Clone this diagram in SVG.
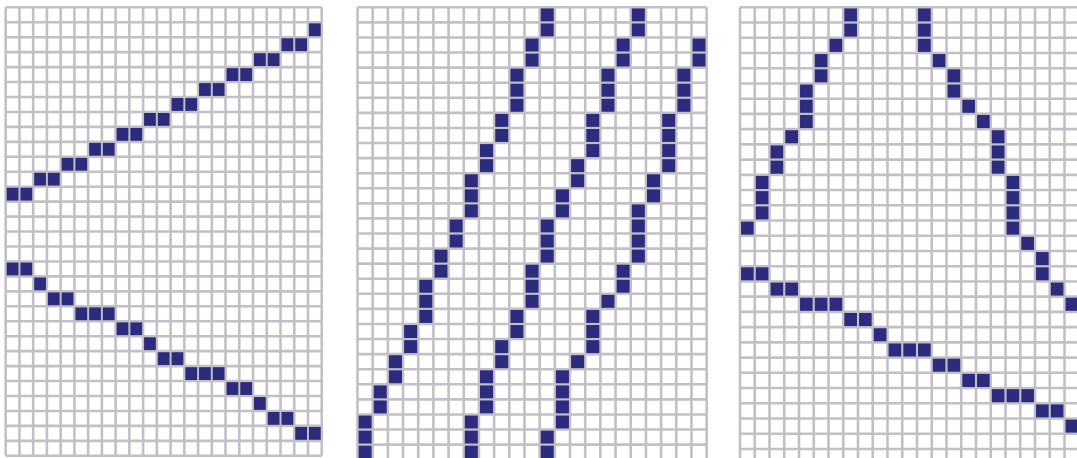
<svg xmlns="http://www.w3.org/2000/svg" xmlns:xlink="http://www.w3.org/1999/xlink" width="1077" height="458" viewBox="0 0 1077 458">
<style>
.grid{fill:none;stroke:#c0c0c6;stroke-width:2.6;vector-effect:non-scaling-stroke}
.cell{fill:#2d2b7d}
</style>
<defs>
<rect id="c" class="cell" x="0.07" y="0.07" width="0.86" height="0.86"/>
</defs>
<rect width="1077" height="458" fill="#ffffff"/>
<g id="panel1" transform="translate(5.7,7.3) scale(13.74,14.95)">
<path class="grid" d="M0 0V30M1 0V30M2 0V30M3 0V30M4 0V30M5 0V30M6 0V30M7 0V30M8 0V30M9 0V30M10 0V30M11 0V30M12 0V30M13 0V30M14 0V30M15 0V30M16 0V30M17 0V30M18 0V30M19 0V30M20 0V30M21 0V30M22 0V30M23 0V30M0 0H23M0 1H23M0 2H23M0 3H23M0 4H23M0 5H23M0 6H23M0 7H23M0 8H23M0 9H23M0 10H23M0 11H23M0 12H23M0 13H23M0 14H23M0 15H23M0 16H23M0 17H23M0 18H23M0 19H23M0 20H23M0 21H23M0 22H23M0 23H23M0 24H23M0 25H23M0 26H23M0 27H23M0 28H23M0 29H23M0 30H23"/>
<use href="#c" x="22" y="1"/><use href="#c" x="20" y="2"/><use href="#c" x="21" y="2"/><use href="#c" x="18" y="3"/><use href="#c" x="19" y="3"/><use href="#c" x="16" y="4"/><use href="#c" x="17" y="4"/><use href="#c" x="14" y="5"/><use href="#c" x="15" y="5"/><use href="#c" x="12" y="6"/><use href="#c" x="13" y="6"/><use href="#c" x="10" y="7"/><use href="#c" x="11" y="7"/><use href="#c" x="8" y="8"/><use href="#c" x="9" y="8"/><use href="#c" x="6" y="9"/><use href="#c" x="7" y="9"/><use href="#c" x="4" y="10"/><use href="#c" x="5" y="10"/><use href="#c" x="2" y="11"/><use href="#c" x="3" y="11"/><use href="#c" x="0" y="12"/><use href="#c" x="1" y="12"/>
<use href="#c" x="0" y="17"/><use href="#c" x="1" y="17"/><use href="#c" x="2" y="18"/><use href="#c" x="3" y="19"/><use href="#c" x="4" y="19"/><use href="#c" x="5" y="20"/><use href="#c" x="6" y="20"/><use href="#c" x="7" y="20"/><use href="#c" x="8" y="21"/><use href="#c" x="9" y="21"/><use href="#c" x="10" y="22"/><use href="#c" x="11" y="23"/><use href="#c" x="12" y="23"/><use href="#c" x="13" y="24"/><use href="#c" x="14" y="24"/><use href="#c" x="15" y="24"/><use href="#c" x="16" y="25"/><use href="#c" x="17" y="25"/><use href="#c" x="18" y="26"/><use href="#c" x="19" y="27"/><use href="#c" x="20" y="27"/><use href="#c" x="21" y="28"/><use href="#c" x="22" y="28"/>
</g>
<g id="panel2" transform="translate(357.5,7.3) scale(15.18,15.08)">
<path class="grid" d="M0 0V30M1 0V30M2 0V30M3 0V30M4 0V30M5 0V30M6 0V30M7 0V30M8 0V30M9 0V30M10 0V30M11 0V30M12 0V30M13 0V30M14 0V30M15 0V30M16 0V30M17 0V30M18 0V30M19 0V30M20 0V30M21 0V30M22 0V30M23 0V30M0 0H23M0 1H23M0 2H23M0 3H23M0 4H23M0 5H23M0 6H23M0 7H23M0 8H23M0 9H23M0 10H23M0 11H23M0 12H23M0 13H23M0 14H23M0 15H23M0 16H23M0 17H23M0 18H23M0 19H23M0 20H23M0 21H23M0 22H23M0 23H23M0 24H23M0 25H23M0 26H23M0 27H23M0 28H23M0 29H23M0 30H23"/>
<use href="#c" x="12" y="0"/><use href="#c" x="12" y="1"/><use href="#c" x="11" y="2"/><use href="#c" x="11" y="3"/><use href="#c" x="10" y="4"/><use href="#c" x="10" y="5"/><use href="#c" x="10" y="6"/><use href="#c" x="9" y="7"/><use href="#c" x="9" y="8"/><use href="#c" x="8" y="9"/><use href="#c" x="8" y="10"/><use href="#c" x="7" y="11"/><use href="#c" x="7" y="12"/><use href="#c" x="7" y="13"/><use href="#c" x="6" y="14"/><use href="#c" x="6" y="15"/><use href="#c" x="5" y="16"/><use href="#c" x="5" y="17"/><use href="#c" x="4" y="18"/><use href="#c" x="4" y="19"/><use href="#c" x="4" y="20"/><use href="#c" x="3" y="21"/><use href="#c" x="3" y="22"/><use href="#c" x="2" y="23"/><use href="#c" x="2" y="24"/><use href="#c" x="1" y="25"/><use href="#c" x="1" y="26"/><use href="#c" x="0" y="27"/><use href="#c" x="0" y="28"/><use href="#c" x="0" y="29"/>
<use href="#c" x="18" y="0"/><use href="#c" x="18" y="1"/><use href="#c" x="17" y="2"/><use href="#c" x="17" y="3"/><use href="#c" x="16" y="4"/><use href="#c" x="16" y="5"/><use href="#c" x="16" y="6"/><use href="#c" x="15" y="7"/><use href="#c" x="15" y="8"/><use href="#c" x="15" y="9"/><use href="#c" x="14" y="10"/><use href="#c" x="14" y="11"/><use href="#c" x="13" y="12"/><use href="#c" x="13" y="13"/><use href="#c" x="12" y="14"/><use href="#c" x="12" y="15"/><use href="#c" x="12" y="16"/><use href="#c" x="11" y="17"/><use href="#c" x="11" y="18"/><use href="#c" x="11" y="19"/><use href="#c" x="10" y="20"/><use href="#c" x="10" y="21"/><use href="#c" x="9" y="22"/><use href="#c" x="9" y="23"/><use href="#c" x="8" y="24"/><use href="#c" x="8" y="25"/><use href="#c" x="8" y="26"/><use href="#c" x="7" y="27"/><use href="#c" x="7" y="28"/><use href="#c" x="7" y="29"/>
<use href="#c" x="22" y="2"/><use href="#c" x="22" y="3"/><use href="#c" x="21" y="4"/><use href="#c" x="21" y="5"/><use href="#c" x="21" y="6"/><use href="#c" x="20" y="7"/><use href="#c" x="20" y="8"/><use href="#c" x="20" y="9"/><use href="#c" x="20" y="10"/><use href="#c" x="19" y="11"/><use href="#c" x="19" y="12"/><use href="#c" x="18" y="13"/><use href="#c" x="18" y="14"/><use href="#c" x="18" y="15"/><use href="#c" x="18" y="16"/><use href="#c" x="17" y="17"/><use href="#c" x="17" y="18"/><use href="#c" x="16" y="19"/><use href="#c" x="15" y="20"/><use href="#c" x="15" y="21"/><use href="#c" x="15" y="22"/><use href="#c" x="14" y="23"/><use href="#c" x="13" y="24"/><use href="#c" x="13" y="25"/><use href="#c" x="13" y="26"/><use href="#c" x="13" y="27"/><use href="#c" x="12" y="28"/><use href="#c" x="12" y="29"/>
</g>
<g id="panel3" transform="translate(740,7.3) scale(14.75,15.23)">
<path class="grid" d="M0 0V30M1 0V30M2 0V30M3 0V30M4 0V30M5 0V30M6 0V30M7 0V30M8 0V30M9 0V30M10 0V30M11 0V30M12 0V30M13 0V30M14 0V30M15 0V30M16 0V30M17 0V30M18 0V30M19 0V30M20 0V30M21 0V30M22 0V30M23 0V30M0 0H23M0 1H23M0 2H23M0 3H23M0 4H23M0 5H23M0 6H23M0 7H23M0 8H23M0 9H23M0 10H23M0 11H23M0 12H23M0 13H23M0 14H23M0 15H23M0 16H23M0 17H23M0 18H23M0 19H23M0 20H23M0 21H23M0 22H23M0 23H23M0 24H23M0 25H23M0 26H23M0 27H23M0 28H23M0 29H23M0 30H23"/>
<use href="#c" x="7" y="0"/><use href="#c" x="7" y="1"/><use href="#c" x="6" y="2"/><use href="#c" x="5" y="3"/><use href="#c" x="5" y="4"/><use href="#c" x="4" y="5"/><use href="#c" x="4" y="6"/><use href="#c" x="4" y="7"/><use href="#c" x="3" y="8"/><use href="#c" x="2" y="9"/><use href="#c" x="2" y="10"/><use href="#c" x="1" y="11"/><use href="#c" x="1" y="12"/><use href="#c" x="1" y="13"/><use href="#c" x="0" y="14"/>
<use href="#c" x="12" y="0"/><use href="#c" x="12" y="1"/><use href="#c" x="12" y="2"/><use href="#c" x="13" y="3"/><use href="#c" x="14" y="4"/><use href="#c" x="14" y="5"/><use href="#c" x="15" y="6"/><use href="#c" x="16" y="7"/><use href="#c" x="17" y="8"/><use href="#c" x="17" y="9"/><use href="#c" x="17" y="10"/><use href="#c" x="18" y="11"/><use href="#c" x="18" y="12"/><use href="#c" x="18" y="13"/><use href="#c" x="18" y="14"/><use href="#c" x="19" y="15"/><use href="#c" x="20" y="16"/><use href="#c" x="20" y="17"/><use href="#c" x="21" y="18"/><use href="#c" x="22" y="19"/>
<use href="#c" x="0" y="17"/><use href="#c" x="1" y="17"/><use href="#c" x="2" y="18"/><use href="#c" x="3" y="18"/><use href="#c" x="4" y="19"/><use href="#c" x="5" y="19"/><use href="#c" x="6" y="19"/><use href="#c" x="7" y="20"/><use href="#c" x="8" y="20"/><use href="#c" x="9" y="21"/><use href="#c" x="10" y="22"/><use href="#c" x="11" y="22"/><use href="#c" x="12" y="22"/><use href="#c" x="13" y="23"/><use href="#c" x="14" y="23"/><use href="#c" x="15" y="24"/><use href="#c" x="16" y="24"/><use href="#c" x="17" y="25"/><use href="#c" x="18" y="25"/><use href="#c" x="19" y="25"/><use href="#c" x="20" y="26"/><use href="#c" x="21" y="26"/><use href="#c" x="22" y="27"/>
</g>
</svg>
